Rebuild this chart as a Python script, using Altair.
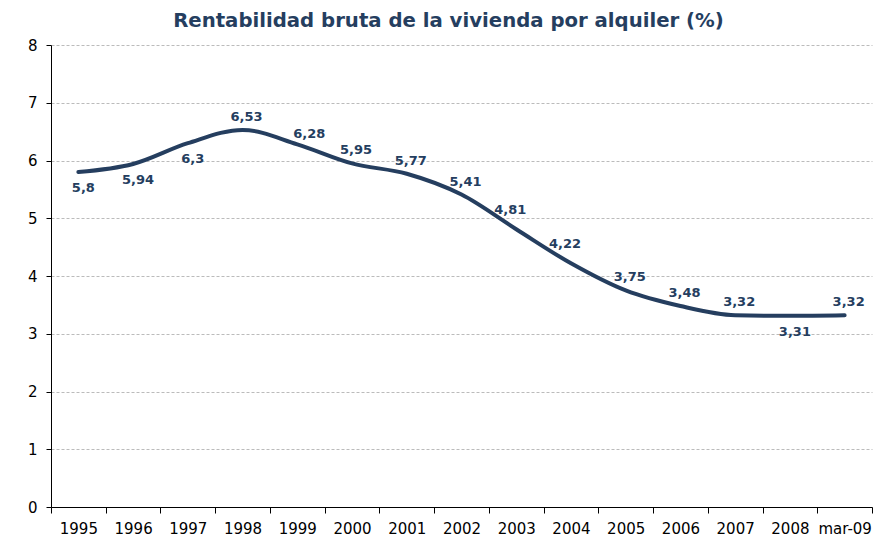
import altair as alt
import pandas as pd

categories = ["1995", "1996", "1997", "1998", "1999", "2000", "2001", "2002",
              "2003", "2004", "2005", "2006", "2007", "2008", "mar-09"]
values = [5.8, 5.94, 6.3, 6.53, 6.28, 5.95, 5.77, 5.41, 4.81, 4.22, 3.75,
          3.48, 3.32, 3.31, 3.32]
placement = ["below", "below", "below", "above", "upper-right", "above", "above", "above",
             "upper-left", "upper-left", "above", "above", "above", "below", "above"]

df = pd.DataFrame({
    "cat": categories,
    "val": values,
    "lab": [str(v).replace(".", ",") for v in values],
    "pos": placement,
})

NAVY = "#253E5F"
FONT = "DejaVu Sans"

x_enc = alt.X("cat:N", sort=categories, bandPosition=0.5,
              scale=alt.Scale(type="band", paddingInner=0, paddingOuter=0),
              axis=alt.Axis(title=None, labelAngle=0, tickBand="extent", grid=False,
                            domainColor="black", tickColor="black", tickSize=6,
                            labelPadding=8, labelFontSize=15, labelFont=FONT,
                            labelColor="black", domainWidth=1))
y_enc = alt.Y("val:Q", scale=alt.Scale(domain=[0, 8], nice=False),
              axis=alt.Axis(title=None, values=[0, 1, 2, 3, 4, 5, 6, 7, 8],
                            domainColor="black", tickColor="black", tickSize=5,
                            labelPadding=9, labelFontSize=15, labelFont=FONT,
                            labelColor="black", grid=True, gridColor="#BBBBBB",
                            gridDash=[3, 2], gridWidth=1, minExtent=38, maxExtent=38))

base = alt.Chart(df)

line = base.mark_line(interpolate="monotone", color=NAVY, strokeWidth=4,
                      strokeCap="round").encode(x=x_enc, y=y_enc)

offsets = {"above": (4, -13), "below": (5, 16), "upper-left": (-6, -19),
           "upper-right": (12, -10)}
text_layers = []
for name, (ddx, ddy) in offsets.items():
    text_layers.append(
        base.transform_filter(alt.datum.pos == name).mark_text(
            dx=ddx, dy=ddy, font=FONT, fontSize=13, fontWeight="bold", color=NAVY
        ).encode(x=x_enc, y=y_enc, text="lab:N")
    )

chart = alt.layer(line, *text_layers).properties(
    width=821, height=462,
    padding={"left": 5, "top": 2, "right": 0, "bottom": 0},
    title=alt.TitleParams("Rentabilidad bruta de la vivienda por alquiler (%)",
                          font=FONT, fontSize=19.7, fontWeight="bold", color=NAVY,
                          anchor="middle", offset=7.5, dx=-13),
).configure_view(stroke=None)

chart.save("out.html", embed_options={"renderer": "svg", "actions": False})
